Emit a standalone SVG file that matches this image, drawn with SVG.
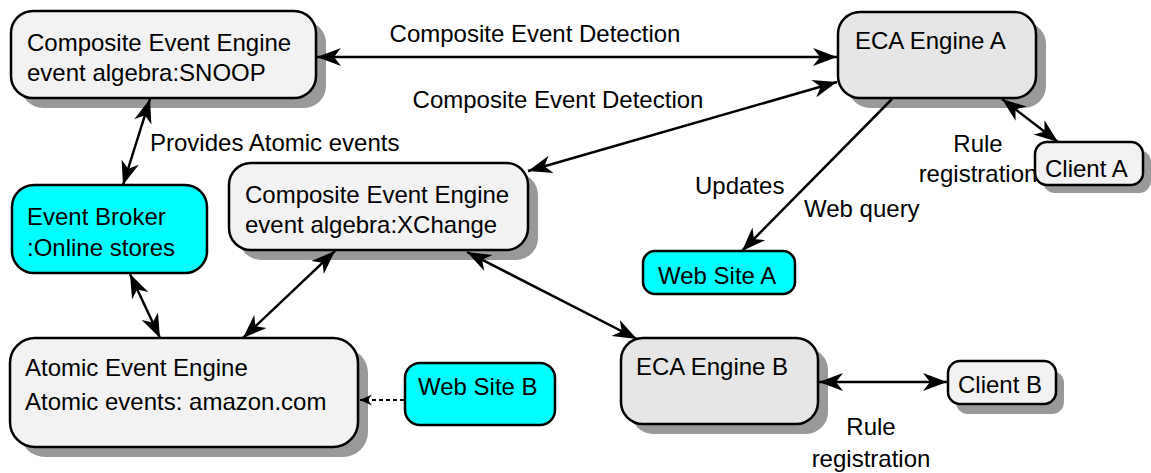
<svg xmlns="http://www.w3.org/2000/svg" width="1151" height="473" viewBox="0 0 1151 473">
  <style>
    text { font-family: "Liberation Sans", Arial, Helvetica, sans-serif; font-size: 24px; fill: #000; }
    .mid { text-anchor: middle; }
    .box { stroke: #000; stroke-width: 2.5; }
    .grey { fill: #f2f2f2; }
    .dark { fill: #e6e6e6; }
    .cyan { fill: #00ffff; }
    .shadow { fill: #999999; stroke: none; }
    .link { fill: none; stroke: #000; stroke-width: 2.5; marker-start: url(#head); marker-end: url(#head); }
    .oneway { marker-start: none; }
    .dash { fill: none; stroke: #000; stroke-width: 2; stroke-dasharray: 4 3; marker-end: url(#small); }
  </style>
  <defs>
    <!-- notched solid arrowhead, tip at the line end -->
    <marker id="head" viewBox="-25 -10 27 20" refX="0" refY="0" markerWidth="27" markerHeight="20" markerUnits="userSpaceOnUse" orient="auto-start-reverse">
      <path d="M0,0 L-24,-9 L-17,0 L-24,9 Z" fill="#000"/>
    </marker>
    <marker id="small" viewBox="-14 -7 15 14" refX="0" refY="0" markerWidth="15" markerHeight="14" markerUnits="userSpaceOnUse" orient="auto">
      <path d="M0,0 L-12,-5.5 L-8,0 L-12,5.5 Z" fill="#000"/>
    </marker>
  </defs>

  <g id="snoop">
    <rect class="shadow" x="21" y="21" width="305" height="87" rx="22"/>
    <rect class="box grey" x="11" y="11" width="305" height="87" rx="22"/>
    <text x="27" y="51">Composite Event Engine</text>
    <text x="27" y="81">event algebra:SNOOP</text>
  </g>

  <g id="eca-a">
    <rect class="shadow" x="848" y="22" width="198" height="86" rx="22"/>
    <rect class="box dark" x="838" y="12" width="198" height="86" rx="22"/>
    <text x="855" y="49">ECA Engine A</text>
  </g>

  <g id="client-a">
    <rect class="shadow" x="1043" y="150" width="108" height="43" rx="12"/>
    <rect class="box grey" x="1035" y="142" width="108" height="43" rx="12"/>
    <text x="1045" y="177">Client A</text>
  </g>

  <g id="broker">
    <rect class="box cyan" x="12" y="185" width="195" height="88" rx="22"/>
    <text x="27" y="225">Event Broker</text>
    <text x="27" y="256">:Online stores</text>
  </g>

  <g id="xchange">
    <rect class="shadow" x="239" y="173" width="299" height="87" rx="22"/>
    <rect class="box grey" x="229" y="163" width="299" height="87" rx="22"/>
    <text x="245" y="203">Composite Event Engine</text>
    <text x="245" y="233">event algebra:XChange</text>
  </g>

  <g id="website-a">
    <rect class="box cyan" x="643" y="251" width="152" height="43" rx="12"/>
    <text x="658" y="284">Web Site A</text>
  </g>

  <g id="atomic">
    <rect class="shadow" x="20" y="348" width="348" height="109" rx="25"/>
    <rect class="box grey" x="10" y="338" width="348" height="109" rx="25"/>
    <text x="25" y="376">Atomic Event Engine</text>
    <text x="25" y="410">Atomic events: amazon.com</text>
  </g>

  <g id="website-b">
    <rect class="box cyan" x="405" y="363" width="150" height="62" rx="15"/>
    <text x="418" y="395">Web Site B</text>
  </g>

  <g id="eca-b">
    <rect class="shadow" x="631" y="348" width="197" height="86" rx="22"/>
    <rect class="box dark" x="621" y="338" width="197" height="86" rx="22"/>
    <text x="636" y="375">ECA Engine B</text>
  </g>

  <g id="client-b">
    <rect class="shadow" x="956" y="371" width="108" height="43" rx="12"/>
    <rect class="box grey" x="948" y="361" width="108" height="43" rx="12"/>
    <text x="958" y="393">Client B</text>
  </g>

  <!-- connectors, drawn over the node shadows -->
  <g id="connectors">
    <line class="link" x1="317" y1="57" x2="837" y2="57"/>
    <line class="link" x1="528" y1="171" x2="837" y2="82"/>
    <line class="link oneway" x1="892" y1="99" x2="742" y2="251"/>
    <line class="link" x1="1002" y1="99" x2="1058" y2="142"/>
    <line class="link" x1="150" y1="99" x2="123" y2="185"/>
    <line class="link" x1="130" y1="274" x2="160" y2="338"/>
    <line class="link" x1="335" y1="251" x2="243" y2="338"/>
    <line class="link" x1="467" y1="252" x2="637" y2="339"/>
    <line class="link" x1="819" y1="382" x2="947" y2="382"/>
    <line class="dash" x1="404" y1="400" x2="360" y2="400"/>

    <text x="535" y="42" class="mid">Composite Event Detection</text>
    <text x="558" y="108" class="mid">Composite Event Detection</text>
    <text x="150" y="151">Provides Atomic events</text>
    <text x="695" y="194">Updates</text>
    <text x="804" y="217">Web query</text>
    <text x="978" y="152" class="mid">Rule</text>
    <text x="978" y="182" class="mid">registration</text>
    <text x="871" y="435" class="mid">Rule</text>
    <text x="871" y="467" class="mid">registration</text>
  </g>
</svg>
